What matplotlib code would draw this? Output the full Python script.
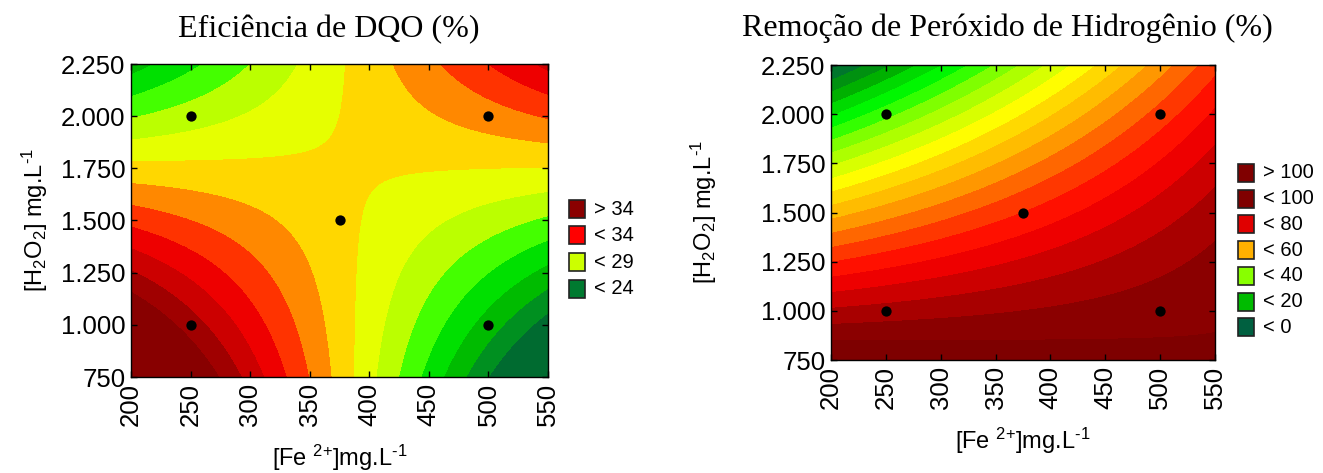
import numpy as np
import matplotlib
matplotlib.use("Agg")
import matplotlib.pyplot as plt
from matplotlib.colors import LinearSegmentedColormap
from matplotlib.patches import Rectangle

plt.rcParams['font.family'] = ['Liberation Sans', 'DejaVu Sans']
plt.rcParams['mathtext.fontset'] = 'custom'
plt.rcParams['mathtext.rm'] = 'Liberation Sans'
plt.rcParams['mathtext.it'] = 'Liberation Sans:italic'

# --- experimental design points (Fe2+ and H2O2, mg/L) ---
fe_points = [250, 250, 375, 500, 500]
h2o2_points = [1000, 2000, 1500, 1000, 2000]

# --- fitted response surfaces in coded units X=(Fe-375)/125, Y=(H2O2-1500)/500 ---
# coefficients: [b0, bX, bY, bXY, bYY]
dqo_coef = [29.25, -1.75, -0.25, 3.25, 0.0]
h2o2_coef = [75.0, 12.5, -22.5, 9.5, -2.5]

# --- axis ticks ---
fe_ticks = [200, 250, 300, 350, 400, 450, 500, 550]
h2o2_ticks = [750, 1000, 1250, 1500, 1750, 2000, 2250]
h2o2_ticklabels = ['750', '1.000', '1.250', '1.500', '1.750', '2.000', '2.250']

# --- contour levels and band colours ---
dqo_levels = [23, 24, 25, 26, 27, 28, 29, 30, 31, 32, 33, 34, 35]
dqo_colors = ['#006b30', '#009020', '#00bb00', '#00e000', '#44ff00', '#bbff00',
              '#e6ff00', '#ffd700', '#ff8800', '#ff3300', '#ee0000', '#cc0000',
              '#a00000', '#880000']
dqo_legend_labels = ['> 34', '< 34', '< 29', '< 24']
dqo_legend_colors = ['#8b0000', '#ff0000', '#ccff00', '#007a30']

rem_levels = list(range(0, 105, 5))
rem_nodes = [(-5, '#005a3c'), (0, '#006a38'), (10, '#00a000'), (18, '#00dd00'),
             (24, '#00ff00'), (33, '#88ff00'), (41, '#ccff00'), (47, '#ffff00'),
             (54, '#ffd000'), (60, '#ffb000'), (65, '#ff8000'), (70, '#ff5000'),
             (75, '#ff2000'), (80, '#ff0000'), (85, '#dd0000'), (90, '#bb0000'),
             (95, '#990000'), (100, '#800000'), (110, '#780000')]
rem_legend_labels = ['> 100', '< 100', '< 80', '< 60', '< 40', '< 20', '< 0']
rem_legend_colors = ['#800000', '#800000', '#e00000', '#ffb000', '#88ff00', '#00bb00', '#006040']


def surface(coef, fe, h):
    X = (fe - 375.0) / 125.0
    Y = (h - 1500.0) / 500.0
    b0, bx, by, bxy, byy = coef
    return b0 + bx * X + by * Y + bxy * X * Y + byy * Y ** 2


fe = np.linspace(200, 550, 400)
hh = np.linspace(750, 2250, 400)
FE, HH = np.meshgrid(fe, hh)
Z1 = surface(dqo_coef, FE, HH)
Z2 = surface(h2o2_coef, FE, HH)

# band colours for the peroxide map from a smooth ramp
vals = [v for v, _ in rem_nodes]
lo, hi = vals[0], vals[-1]
ramp = LinearSegmentedColormap.from_list(
    'ramp', [((v - lo) / (hi - lo), c) for v, c in rem_nodes])
mids = [rem_levels[0] - 2.5] + [(a + b) / 2 for a, b in zip(rem_levels[:-1], rem_levels[1:])] + [rem_levels[-1] + 2.5]
rem_colors = [ramp((m - lo) / (hi - lo)) for m in mids]

fig = plt.figure(figsize=(13.23, 4.73), dpi=100)
W, H = 1323, 473

ax1 = fig.add_axes([131 / W, 1 - 377 / H, 417 / W, 313 / H])
ax2 = fig.add_axes([831 / W, 1 - 360 / H, 384 / W, 295 / H])

ax1.contourf(FE, HH, Z1, levels=dqo_levels, colors=dqo_colors, extend='both')
ax2.contourf(FE, HH, Z2, levels=rem_levels, colors=rem_colors, extend='both')

ylabel = r'[H$_2$O$_2$] mg.L$^{\text{-1}}$'
xlabel = r'[Fe $^{\text{2+}}$]mg.L$^{\text{-1}}$'

for ax, ypad in ((ax1, 8), (ax2, 30)):
    ax.scatter(fe_points, h2o2_points, s=55, color='black', zorder=5, linewidths=0)
    ax.set_xlim(200, 550)
    ax.set_ylim(750, 2250)
    ax.set_xticks(fe_ticks)
    ax.set_xticklabels([str(t) for t in fe_ticks], rotation=90, fontsize=18.5)
    ax.set_yticks(h2o2_ticks)
    ax.set_yticklabels(h2o2_ticklabels, fontsize=18.5)
    ax.tick_params(direction='in', top=True, right=True, length=4, width=1, pad=4)
    for s in ax.spines.values():
        s.set_linewidth(1.0)
    ax.set_ylabel(ylabel, fontsize=17, labelpad=ypad)
    ax.set_xlabel(xlabel, fontsize=17, labelpad=12)

fig.text(329 / W, 1 - 37 / H, 'Eficiência de DQO (%)', family='Liberation Serif',
         fontsize=23, ha='center', va='baseline')
fig.text(1007 / W, 1 - 36 / H, 'Remoção de Peróxido de Hidrogênio (%)', family='Liberation Serif',
         fontsize=23, ha='center', va='baseline')


def draw_legend(x0, y0, step, labels, colors):
    for i, (lab, col) in enumerate(zip(labels, colors)):
        yc = y0 + i * step
        fig.add_artist(Rectangle(((x0) / W, 1 - (yc + 9) / H), 16 / W, 18 / H,
                                 facecolor=col, edgecolor='#222222', linewidth=1.2,
                                 transform=fig.transFigure))
        fig.text((x0 + 25) / W, 1 - yc / H, lab, fontsize=14.5, va='center', ha='left')


draw_legend(569, 209, 26.5, dqo_legend_labels, dqo_legend_colors)
draw_legend(1238, 173, 25.7, rem_legend_labels, rem_legend_colors)

fig.savefig('out.png', dpi=100)
